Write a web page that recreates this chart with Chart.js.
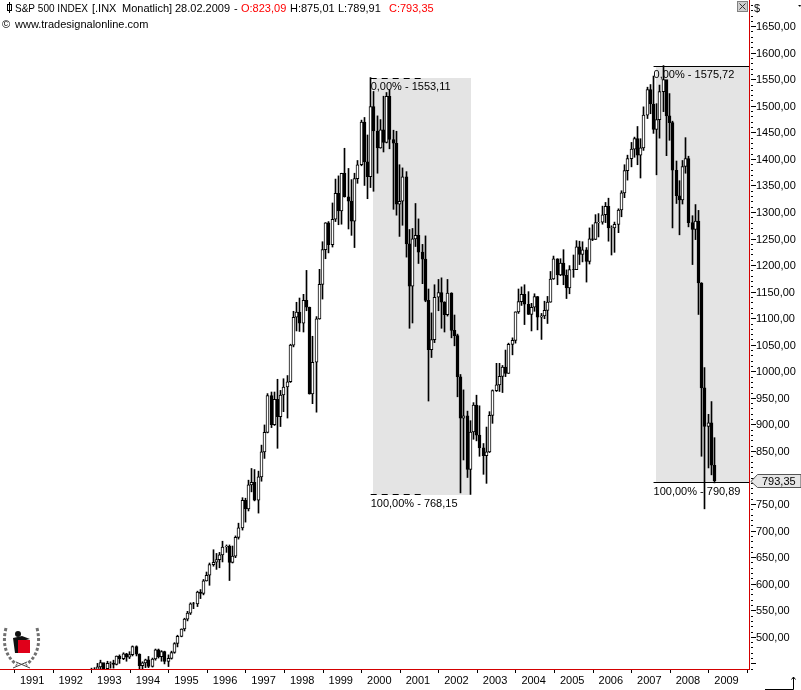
<!DOCTYPE html>
<html>
<head>
<meta charset="utf-8">
<style>
  html, body { margin: 0; padding: 0; background: #fff; }
  canvas { display: block; }
</style>
<script src="https://cdn.jsdelivr.net/npm/chart.js@4"></script>
</head>
<body>
<canvas id="chart" width="801" height="690"></canvas>
<script>
// monthly candles, Oct 1992 - Feb 2009
const opens = [
  417.8, 418.68, 431.35,
  435.71, 438.78, 443.38, 451.67, 440.19, 450.19, 450.53, 448.13, 463.56, 458.93, 467.83, 461.79,
  466.45, 481.61, 467.14, 445.77, 450.91, 456.5, 444.27, 458.26, 475.49, 462.69, 472.35, 453.69,
  459.27, 470.42, 487.39, 500.71, 514.71, 533.4, 544.75, 562.06, 561.88, 584.41, 581.5, 605.37,
  615.93, 636.02, 640.43, 645.5, 654.17, 669.12, 670.63, 639.95, 651.99, 687.31, 705.27, 757.02,
  740.74, 786.16, 790.82, 757.12, 801.34, 848.28, 885.14, 954.31, 899.47, 947.28, 914.62, 955.4,
  970.43, 980.28, 1049.34, 1101.75, 1111.75, 1090.82, 1133.84, 1120.67, 957.28, 1017.01, 1098.67, 1163.63,
  1229.23, 1279.64, 1238.33, 1286.37, 1335.18, 1301.84, 1372.71, 1328.72, 1320.41, 1282.71, 1362.93, 1388.91,
  1469.25, 1394.46, 1366.42, 1498.58, 1452.43, 1420.6, 1454.6, 1430.83, 1517.68, 1436.51, 1429.4, 1314.95,
  1320.28, 1366.01, 1239.94, 1160.33, 1249.46, 1255.82, 1224.38, 1211.23, 1133.58, 1040.94, 1059.78, 1139.45,
  1148.08, 1130.2, 1106.73, 1147.39, 1076.92, 1067.14, 989.82, 911.62, 916.07, 815.28, 885.76, 936.31,
  879.82, 855.7, 841.15, 848.18, 916.92, 963.59, 974.5, 990.31, 1008.01, 995.97, 1050.71, 1058.2,
  1111.92, 1131.13, 1144.94, 1126.21, 1107.3, 1120.68, 1140.84, 1101.72, 1104.24, 1114.58, 1130.2, 1173.82,
  1211.92, 1181.27, 1203.6, 1180.59, 1156.85, 1191.5, 1191.33, 1234.18, 1220.33, 1228.81, 1207.01, 1249.48,
  1248.29, 1280.08, 1280.66, 1294.87, 1310.61, 1270.09, 1270.2, 1276.66, 1303.82, 1335.85, 1377.94, 1400.63,
  1418.3, 1438.24, 1406.82, 1420.86, 1482.37, 1530.62, 1503.35, 1455.27, 1473.99, 1526.75, 1549.38, 1481.14,
  1468.36, 1378.55, 1330.63, 1322.7, 1385.59, 1400.38, 1280, 1267.38, 1282.83, 1166.36, 968.75, 896.24,
  902.99, 823.09
];
const highs = [
  422, 432, 441,
  442, 450, 456, 449, 454, 453, 456, 464, 466, 470, 469, 472,
  482.9, 483, 468, 453, 458, 463, 460, 477, 477, 474, 473, 466,
  473, 489, 503, 515, 535, 548, 564, 565, 586, 589, 608, 622,
  639, 664, 657, 659, 680, 673, 673, 671, 690, 714, 762, 761,
  795, 817, 815, 812, 861, 899, 958, 961, 961, 985, 964, 986,
  992, 1051, 1113, 1130, 1138, 1145, 1190, 1121, 1066, 1103, 1192, 1244,
  1280, 1282, 1317, 1362, 1368, 1373, 1420, 1382, 1361, 1373, 1397, 1473,
  1478, 1445, 1553.11, 1527, 1481, 1474, 1518, 1525, 1530, 1454, 1452, 1389,
  1383, 1376, 1267, 1269, 1316, 1287, 1239, 1255, 1155, 1110, 1163, 1173,
  1176, 1131, 1173, 1148, 1106, 1070, 994, 965, 925, 907, 941, 955,
  935, 864, 895, 924, 965, 1015, 1015, 1011, 1040, 1053, 1063, 1112,
  1155, 1159, 1163, 1150, 1128, 1146, 1141, 1109, 1132, 1141, 1188, 1217,
  1212, 1212, 1229, 1191, 1199, 1219, 1246, 1245, 1244, 1233, 1270, 1276,
  1295, 1297, 1311, 1318, 1326, 1274, 1281, 1306, 1340, 1389, 1407, 1431,
  1441, 1461, 1438, 1498, 1535, 1540, 1556, 1504, 1539, 1575.72, 1546, 1523,
  1471, 1396, 1359, 1397, 1440, 1405, 1293, 1314, 1303, 1167, 1007, 919,
  943, 875.01
];
const lows = [
  402, 418, 430,
  428, 431, 440, 429, 437, 441, 441, 447, 450, 457, 454, 459,
  464, 464, 436, 435, 442, 442, 443, 456, 460, 454, 449, 444,
  458, 469, 481, 500, 511, 530, 542, 553, 557, 572, 579, 605,
  597, 633, 627, 630, 641, 659, 606, 639, 649, 684, 701, 716,
  737, 773, 756, 733, 793, 836, 884, 894, 898, 855, 896, 924,
  912, 979, 1046, 1076, 1075, 1074, 1114, 957, 939, 923, 1098, 1136,
  1212, 1223, 1234, 1282, 1276, 1277, 1328, 1268, 1256, 1233, 1354, 1387,
  1350, 1325, 1346, 1339, 1373, 1420, 1413, 1430, 1419, 1305, 1294, 1254,
  1275, 1215, 1081, 1091, 1235, 1203, 1165, 1131, 944, 1026, 1054, 1114,
  1081, 1074, 1104, 1063, 1048, 952, 771, 833, 800, 768.15, 872, 869,
  840, 806, 789, 847, 902, 962, 962, 960, 990, 996, 1031, 1053,
  1109, 1124, 1088, 1107, 1076, 1113, 1078, 1060, 1099, 1090, 1130, 1173,
  1163, 1180, 1163, 1137, 1146, 1177, 1193, 1201, 1206, 1168, 1202, 1246,
  1248, 1253, 1277, 1280, 1245, 1219, 1224, 1261, 1291, 1327, 1360, 1385,
  1403, 1389, 1364, 1416, 1476, 1485, 1448, 1370, 1439, 1489, 1406, 1435,
  1270, 1316, 1257, 1315, 1373, 1272, 1201, 1248, 1107, 840, 741, 818,
  805, 789.91
];
const closes = [
  418.68, 431.35, 435.71,
  438.78, 443.38, 451.67, 440.19, 450.19, 450.53, 448.13, 463.56, 458.93, 467.83, 461.79, 466.45,
  481.61, 467.14, 445.77, 450.91, 456.5, 444.27, 458.26, 475.49, 462.69, 472.35, 453.69, 459.27,
  470.42, 487.39, 500.71, 514.71, 533.4, 544.75, 562.06, 561.88, 584.41, 581.5, 605.37, 615.93,
  636.02, 640.43, 645.5, 654.17, 669.12, 670.63, 639.95, 651.99, 687.31, 705.27, 757.02, 740.74,
  786.16, 790.82, 757.12, 801.34, 848.28, 885.14, 954.31, 899.47, 947.28, 914.62, 955.4, 970.43,
  980.28, 1049.34, 1101.75, 1111.75, 1090.82, 1133.84, 1120.67, 957.28, 1017.01, 1098.67, 1163.63, 1229.23,
  1279.64, 1238.33, 1286.37, 1335.18, 1301.84, 1372.71, 1328.72, 1320.41, 1282.71, 1362.93, 1388.91, 1469.25,
  1394.46, 1366.42, 1498.58, 1452.43, 1420.6, 1454.6, 1430.83, 1517.68, 1436.51, 1429.4, 1314.95, 1320.28,
  1366.01, 1239.94, 1160.33, 1249.46, 1255.82, 1224.38, 1211.23, 1133.58, 1040.94, 1059.78, 1139.45, 1148.08,
  1130.2, 1106.73, 1147.39, 1076.92, 1067.14, 989.82, 911.62, 916.07, 815.28, 885.76, 936.31, 879.82,
  855.7, 841.15, 848.18, 916.92, 963.59, 974.5, 990.31, 1008.01, 995.97, 1050.71, 1058.2, 1111.92,
  1131.13, 1144.94, 1126.21, 1107.3, 1120.68, 1140.84, 1101.72, 1104.24, 1114.58, 1130.2, 1173.82, 1211.92,
  1181.27, 1203.6, 1180.59, 1156.85, 1191.5, 1191.33, 1234.18, 1220.33, 1228.81, 1207.01, 1249.48, 1248.29,
  1280.08, 1280.66, 1294.87, 1310.61, 1270.09, 1270.2, 1276.66, 1303.82, 1335.85, 1377.94, 1400.63, 1418.3,
  1438.24, 1406.82, 1420.86, 1482.37, 1530.62, 1503.35, 1455.27, 1473.99, 1526.75, 1549.38, 1481.14, 1468.36,
  1378.55, 1330.63, 1322.7, 1385.59, 1400.38, 1280, 1267.38, 1282.83, 1166.36, 968.75, 896.24, 902.99,
  823.09, 793.35
];
// retracement zones: first month, 0% level, 100% level
const zoneStarts = ['2000-03', '2007-07'];
const zoneHighs = [1553.11, 1575.72];
const zoneLows = [768.15, 790.89];
const lastClose = 793.35;

const FONT_FAMILY = '"Liberation Sans", Arial, sans-serif';
const FONT = '11px ' + FONT_FAMILY;
const AXIS_RED = '#d40000';
const fmt = v => v.toFixed(2).replace('.', ',');

// month axis, Aug 1990 to Jan 2010
const months = [];
for (let y = 1990; y <= 2010; y++) {
  for (let m = 1; m <= 12; m++) {
    const key = y + '-' + String(m).padStart(2, '0');
    if (key >= '1990-08' && key <= '2010-01') months.push(key);
  }
}
const candleMonths = months.slice(months.indexOf('1992-10'), months.indexOf('2009-02') + 1);

const overlay = {
  id: 'overlay',
  afterDatasetsUpdate(chart) {
    // snap candles to whole pixels, the original is not antialiased
    [0, 1].forEach(i => {
      chart.getDatasetMeta(i).data.forEach(el => { el.x = Math.round(el.x + 0.5) + 0.5; });
    });
  },
  beforeDatasetsDraw(chart) {
    const { ctx, scales: { x, y }, chartArea } = chart;
    ctx.save();
    ctx.fillStyle = '#e4e4e4';
    // first box ends on the Oct 2002 low, second runs to the chart edge
    const lefts = [x.getPixelForValue(months.indexOf(zoneStarts[0])) + 3, x.getPixelForValue(months.indexOf(zoneStarts[1])) + 3];
    const rights = [x.getPixelForValue(months.indexOf('2002-10')) + 1, chartArea.right];
    zoneHighs.forEach((hi, i) => {
      const top = y.getPixelForValue(hi), bottom = y.getPixelForValue(zoneLows[i]);
      ctx.fillRect(Math.round(lefts[i]), Math.round(top), Math.round(rights[i] - lefts[i]), Math.round(bottom - top));
    });
    ctx.restore();
  },
  afterDatasetsDraw(chart) {
    const { ctx, scales: { x, y }, chartArea } = chart;
    ctx.save();
    ctx.strokeStyle = '#000';
    ctx.lineWidth = 1;
    const hline = (x0, x1, val, dash) => {
      const py = Math.round(y.getPixelForValue(val)) + 0.5;
      ctx.setLineDash(dash);
      ctx.beginPath();
      ctx.moveTo(x0, py);
      ctx.lineTo(x1, py);
      ctx.stroke();
    };
    const x0 = x.getPixelForValue(months.indexOf(zoneStarts[0])) + 1;
    hline(x0, x0 + 50, zoneHighs[0], [6, 5]);
    hline(x0, x0 + 50, zoneLows[0], [6, 5]);
    const x1 = x.getPixelForValue(months.indexOf(zoneStarts[1])) + 1;
    hline(x1, chartArea.right, zoneHighs[1], []);
    hline(x1, chartArea.right, zoneLows[1], []);
    ctx.setLineDash([]);

    ctx.font = FONT;
    ctx.fillStyle = '#000';
    ctx.textBaseline = 'middle';
    [x0, x1].forEach((px, i) => {
      ctx.fillText('0,00% - ' + fmt(zoneHighs[i]), px, y.getPixelForValue(zoneHighs[i]) + 9.5);
      ctx.fillText('100,00% - ' + fmt(zoneLows[i]), px, y.getPixelForValue(zoneLows[i]) + 9.5);
    });
    ctx.restore();
  },
  afterDraw(chart) {
    const { ctx, scales: { y } } = chart;
    ctx.save();
    ctx.font = FONT;
    ctx.textBaseline = 'middle';
    ctx.lineWidth = 1;

    // price axis ticks, detached from the axis line
    ctx.strokeStyle = '#000';
    y.ticks.forEach(t => {
      const py = Math.round(y.getPixelForValue(t.value)) + 0.5;
      ctx.beginPath();
      ctx.moveTo(751, py);
      ctx.lineTo(t.value % 50 === 0 ? 756 : 753, py);
      ctx.stroke();
    });

    // header
    ctx.fillStyle = '#000';
    ctx.fillRect(9, 2, 1, 11);
    ctx.strokeRect(7.5, 4.5, 4, 6);
    ctx.fillText('S&P 500 INDEX', 15, 8.5, 73);
    [['[.INX', 92, '#000'], ['Monatlich]', 122, '#000'],
     ['28.02.2009', 175, '#000'], ['-', 234, '#000'], ['O:823,09', 241, '#f00'],
     ['H:875,01', 290, '#000'], ['L:789,91', 338, '#000'], ['C:793,35', 389, '#f00']].forEach(([s, tx, c]) => {
      ctx.fillStyle = c;
      ctx.fillText(s, tx, 8.5);
    });
    ctx.fillStyle = '#000';
    ctx.fillText('©', 2, 24.5);
    ctx.fillText('www.tradesignalonline.com', 15, 24.5);

    // close box
    ctx.fillStyle = '#cfcfcf';
    ctx.fillRect(737, 1, 11, 11);
    ctx.strokeStyle = '#808080';
    ctx.strokeRect(737.5, 1.5, 10, 10);
    ctx.strokeStyle = '#333';
    ctx.beginPath();
    ctx.moveTo(739.5, 3.5); ctx.lineTo(745.5, 9.5);
    ctx.moveTo(745.5, 3.5); ctx.lineTo(739.5, 9.5);
    ctx.stroke();

    // currency and small menu marker
    ctx.fillStyle = '#000';
    ctx.fillText('$', 754, 8.5);
    ctx.beginPath();
    ctx.moveTo(798, 5); ctx.lineTo(801, 5); ctx.lineTo(800, 7);
    ctx.fill();

    // last price tag
    const tagY = Math.round(y.getPixelForValue(lastClose));
    ctx.fillStyle = '#e6e6e6';
    ctx.strokeStyle = '#555';
    ctx.beginPath();
    ctx.moveTo(751, tagY + 0.5);
    ctx.lineTo(757.5, tagY - 6.5);
    ctx.lineTo(801, tagY - 6.5);
    ctx.lineTo(801, tagY + 6.5);
    ctx.lineTo(757.5, tagY + 6.5);
    ctx.closePath();
    ctx.fill();
    ctx.stroke();
    ctx.fillStyle = '#000';
    ctx.fillText(fmt(lastClose), 762, tagY + 0.5);

    // corner arrow
    ctx.strokeStyle = '#000';
    ctx.beginPath();
    ctx.moveTo(765, 689.5); ctx.lineTo(793.5, 689.5); ctx.lineTo(793.5, 677);
    ctx.moveTo(791.5, 679.5); ctx.lineTo(793.5, 677); ctx.lineTo(795.5, 679.5);
    ctx.stroke();

    // laurel logo
    ctx.strokeStyle = '#707070';
    ctx.lineWidth = 3;
    ctx.setLineDash([3, 2]);
    ctx.beginPath();
    ctx.moveTo(6, 628); ctx.quadraticCurveTo(0, 652, 17, 665);
    ctx.moveTo(37, 628); ctx.quadraticCurveTo(43, 652, 26, 665);
    ctx.stroke();
    ctx.setLineDash([]);
    ctx.lineWidth = 1;
    ctx.strokeStyle = '#444';
    ctx.beginPath();
    ctx.moveTo(13, 668); ctx.lineTo(27, 662);
    ctx.moveTo(30, 668); ctx.lineTo(16, 662);
    ctx.stroke();
    ctx.fillStyle = '#111';
    ctx.beginPath();
    ctx.arc(18, 634, 3, 0, Math.PI * 2);
    ctx.fill();
    ctx.beginPath();
    ctx.moveTo(13, 638); ctx.lineTo(22, 636); ctx.lineTo(30, 639); ctx.lineTo(18, 642);
    ctx.lineTo(18, 653); ctx.lineTo(15, 653);
    ctx.closePath();
    ctx.fill();
    ctx.fillStyle = '#e0001a';
    ctx.fillRect(18, 640, 12, 13);
    ctx.restore();
  }
};

new Chart(document.getElementById('chart'), {
  type: 'bar',
  data: {
    labels: months,
    datasets: [
      {
        label: 'range',
        data: candleMonths.map((m, i) => ({ x: m, y: [lows[i], highs[i]] })),
        backgroundColor: '#000',
        barThickness: 1,
        grouped: false,
        order: 2
      },
      {
        label: 'body',
        data: candleMonths.map((m, i) => ({ x: m, y: [opens[i], closes[i]] })),
        backgroundColor: ctx => closes[ctx.dataIndex] >= opens[ctx.dataIndex] ? '#fff' : '#000',
        borderColor: '#000',
        borderWidth: 1,
        borderSkipped: false,
        barThickness: 3,
        grouped: false,
        order: 1
      }
    ]
  },
  options: {
    responsive: false,
    animation: false,
    devicePixelRatio: 1,
    layout: { padding: 0 },
    plugins: { legend: { display: false }, tooltip: { enabled: false } },
    scales: {
      x: {
        type: 'category',
        offset: false,
        border: { color: AXIS_RED, width: 1 },
        grid: {
          drawOnChartArea: false,
          tickLength: 4,
          tickColor: ctx => (months[ctx.index] || '').endsWith('-01') ? '#000' : 'rgba(0,0,0,0)'
        },
        ticks: {
          autoSkip: false,
          maxRotation: 0,
          padding: 1,
          color: '#000',
          font: { family: FONT_FAMILY, size: 11 },
          callback(val) {
            const m = months[val];
            return m.endsWith('-06') && m >= '1991' && m < '2010' ? m.slice(0, 4) : '';
          }
        },
        afterFit(scale) { scale.height = 21; scale.paddingLeft = 0; scale.paddingRight = 0; }
      },
      y: {
        position: 'right',
        min: 439.4,
        max: 1699.2,
        border: { color: AXIS_RED, width: 1 },
        grid: { drawOnChartArea: false, drawTicks: false },
        ticks: {
          stepSize: 10,
          autoSkip: false,
          includeBounds: false,
          padding: 7,
          labelOffset: 1,
          color: '#000',
          font: { family: FONT_FAMILY, size: 11 },
          // the 800 label sits under the last price tag
          callback(v) { return v % 50 === 0 && v >= 500 && v <= 1650 && v !== 800 ? fmt(v) : ''; }
        },
        afterFit(scale) { scale.width = 52; scale.paddingTop = 0; scale.paddingBottom = 0; }
      }
    }
  },
  plugins: [overlay]
});
</script>
</body>
</html>
